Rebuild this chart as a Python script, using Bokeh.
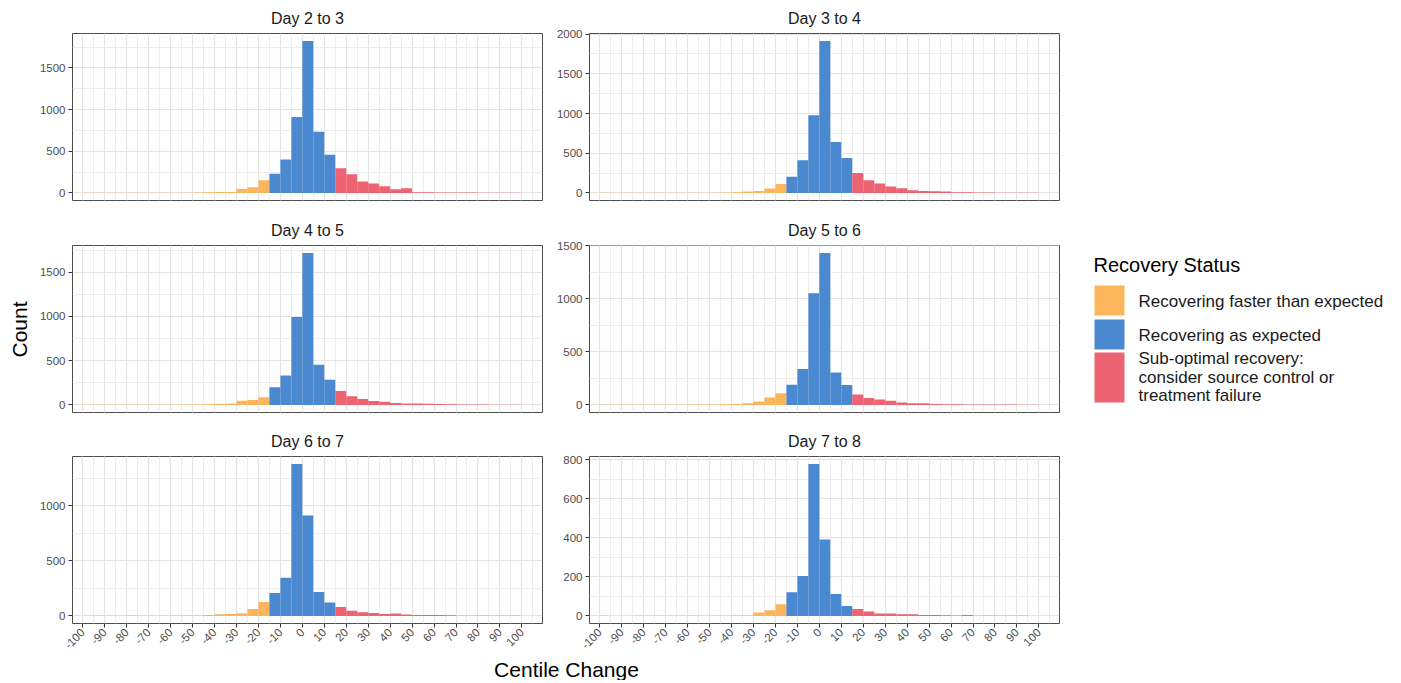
import math
from bokeh.plotting import figure
from bokeh.layouts import row, column
from bokeh.models import Range1d, FixedTicker, ColumnDataSource
from bokeh.embed import file_html
from bokeh.resources import INLINE
from bokeh.core.properties import value

FONT = "Liberation Sans"

# ---------------- data ----------------
bin_left = list(range(-100, 100, 5))   # histogram bins of width 5 centile points
BIN_W = 5

panel_titles = ["Day 2 to 3", "Day 3 to 4", "Day 4 to 5", "Day 5 to 6", "Day 6 to 7", "Day 7 to 8"]

counts_d23 = [2, 2, 1, 2, 2, 1, 2, 2, 3, 3, 4, 8, 12, 12, 48, 68, 152, 231, 400, 913,
              1823, 734, 459, 295, 223, 136, 112, 80, 44, 56, 8, 7, 6, 6, 5, 6, 3, 2, 2, 1]
counts_d34 = [1, 1, 1, 1, 1, 1, 2, 2, 2, 3, 3, 4, 8, 17, 25, 54, 113, 205, 410, 979,
              1912, 640, 439, 251, 159, 117, 80, 59, 33, 25, 21, 17, 8, 8, 4, 4, 3, 3, 2, 1]
counts_d45 = [1, 1, 1, 2, 2, 2, 3, 3, 3, 4, 5, 7, 10, 15, 48, 56, 86, 199, 334, 994,
              1717, 454, 285, 157, 97, 67, 45, 37, 22, 15, 15, 12, 10, 8, 6, 6, 4, 3, 3, 2]
counts_d56 = [1, 1, 1, 1, 2, 2, 2, 2, 3, 3, 3, 6, 9, 16, 31, 69, 109, 190, 337, 1051,
              1429, 306, 187, 97, 65, 50, 40, 22, 16, 16, 9, 7, 6, 5, 5, 4, 4, 3, 2, 2]
counts_d67 = [1, 1, 1, 2, 3, 2, 2, 2, 3, 3, 4, 9, 15, 18, 24, 63, 126, 208, 346, 1380,
              913, 217, 123, 81, 48, 33, 27, 18, 21, 12, 9, 8, 8, 7, 2, 2, 2, 2, 2, 1]
counts_d78 = [1, 0, 0, 1, 1, 1, 1, 1, 1, 1, 1, 1, 2, 2, 17, 29, 60, 121, 204, 778,
              391, 112, 51, 36, 22, 12, 12, 9, 9, 5, 5, 3, 2, 5, 1, 1, 1, 1, 1, 0]

panel_counts = [counts_d23, counts_d34, counts_d45, counts_d56, counts_d67, counts_d78]
panel_ystep = [500, 500, 500, 500, 500, 200]

status_labels = ["Recovering faster than expected", "Recovering as expected",
                 "Sub-optimal recovery:", "consider source control or", "treatment failure"]
status_colors = ["#FDB55B", "#4A89CF", "#EE6371"]
LOW, HIGH = -15, 15

x_ticks = list(range(-100, 101, 10))
x_minor = list(range(-105, 106, 5))

# ---------------- geometry ----------------
FRAME_W = 470
FRAME_H = 167
TOP = 33
ROW_BOTTOM = [12, 11, 33]
LEFT_BORDER = [40, 42]
RIGHT_BORDER = 5
COUNT_W = 32
TOTAL_H = 680
XL_H = TOTAL_H - (3 * (TOP + FRAME_H) + sum(ROW_BOTTOM))


def bin_color(left):
    if left + BIN_W <= LOW:
        return status_colors[0]
    if left >= HIGH:
        return status_colors[2]
    return status_colors[1]


def make_panel(idx):
    r, c = divmod(idx, 2)
    counts = panel_counts[idx]
    m = max(counts)
    ytop = 1.05 * m
    step = panel_ystep[idx]
    bottom = ROW_BOTTOM[r]
    show_x = (r == 2)
    p = figure(width=LEFT_BORDER[c] + FRAME_W + RIGHT_BORDER,
               height=TOP + FRAME_H + bottom,
               x_range=Range1d(-104.7, 109.4),
               y_range=Range1d(-0.05 * m, ytop),
               output_backend="svg", toolbar_location=None,
               min_border_left=LEFT_BORDER[c], min_border_right=RIGHT_BORDER,
               min_border_top=TOP, min_border_bottom=bottom,
               title=panel_titles[idx])
    p.title.text_font = FONT
    p.title.text_font_size = "16px"
    p.title.text_font_style = "normal"
    p.title.text_color = "#1A1A1A"
    p.title.align = "center"
    p.title.standoff = 14

    yt = []
    v = 0
    while v <= ytop + 1:
        yt.append(v)
        v += step
    ym = [t + step / 2 for t in yt]

    xtick = FixedTicker(ticks=x_ticks, minor_ticks=x_minor)
    ytick = FixedTicker(ticks=yt, minor_ticks=ym)
    p.xaxis.ticker = xtick
    p.xgrid.ticker = xtick
    p.yaxis.ticker = ytick
    p.ygrid.ticker = ytick
    p.xaxis.major_label_overrides = {t: str(t) for t in x_ticks}

    for g in (p.xgrid, p.ygrid):
        g.grid_line_color = "#E4E4E4"
        g.grid_line_width = 1.2
        g.minor_grid_line_color = "#EDEDED"
        g.minor_grid_line_width = 1.0

    for ax in (p.xaxis, p.yaxis):
        ax.axis_line_color = None
        ax.major_tick_line_color = "#333333"
        ax.major_tick_line_width = 1
        ax.major_tick_out = 4
        ax.major_tick_in = 0
        ax.minor_tick_line_color = None
        ax.major_label_text_font = FONT
        ax.major_label_text_font_size = "11.5px"
        ax.major_label_text_color = "#4D4D4D"
        ax.major_label_standoff = 3

    if show_x:
        p.xaxis.major_label_orientation = math.pi / 4
    else:
        p.xaxis.visible = False

    p.outline_line_color = "#4D4D4D"
    p.outline_line_width = 1
    p.background_fill_color = "white"
    p.border_fill_color = "white"

    src = ColumnDataSource(dict(
        left=bin_left,
        right=[b + BIN_W for b in bin_left],
        top=counts,
        color=[bin_color(b) for b in bin_left],
    ))
    p.quad(left="left", right="right", bottom=0, top="top",
           fill_color="color", line_color=None, source=src)
    return p


panels = [make_panel(i) for i in range(6)]


def blank(width, height):
    f = figure(width=width, height=height, x_range=Range1d(0, width),
               y_range=Range1d(0, height), output_backend="svg",
               toolbar_location=None, min_border=0,
               x_axis_type=None, y_axis_type=None)
    f.outline_line_color = None
    f.background_fill_color = "white"
    f.border_fill_color = "white"
    return f


# y-axis label figure
cf = blank(COUNT_W, TOTAL_H)
cf.text(x=[19], y=[TOTAL_H - 329], text=["Count"], angle=math.pi / 2,
        text_align="center", text_baseline="middle",
        text_font=value(FONT), text_font_size="21px", text_color="#000000")

# x-axis label figure
XL_W = sum(LEFT_BORDER) + 2 * (FRAME_W + RIGHT_BORDER)
xf = blank(XL_W, XL_H)
xf.text(x=[566 - COUNT_W], y=[XL_H / 2 - 1], text=["Centile Change"], text_align="center",
        text_baseline="middle", text_font=value(FONT),
        text_font_size="21px", text_color="#000000")

# legend figure
LG_W = 330
lg = blank(LG_W, TOTAL_H)
Y = lambda py: TOTAL_H - py
lg.text(x=[29], y=[Y(264)], text=["Recovery Status"], text_align="left",
        text_baseline="middle", text_font=value(FONT), text_font_size="20px",
        text_color="#000000")
lg.quad(left=30, right=60,
        top=[Y(285), Y(319), Y(352)], bottom=[Y(315), Y(349), Y(402)],
        fill_color=status_colors, line_color=None)
lg.text(x=[74] * 5, y=[Y(301), Y(335), Y(358), Y(377), Y(395)], text=status_labels,
        text_align="left", text_baseline="middle", text_font=value(FONT),
        text_font_size="17px", text_color="#1A1A1A")

layout = row(cf,
             column(row(panels[0], panels[1]),
                    row(panels[2], panels[3]),
                    row(panels[4], panels[5]),
                    xf),
             lg)

open("out.html", "w").write(file_html(layout, INLINE))
